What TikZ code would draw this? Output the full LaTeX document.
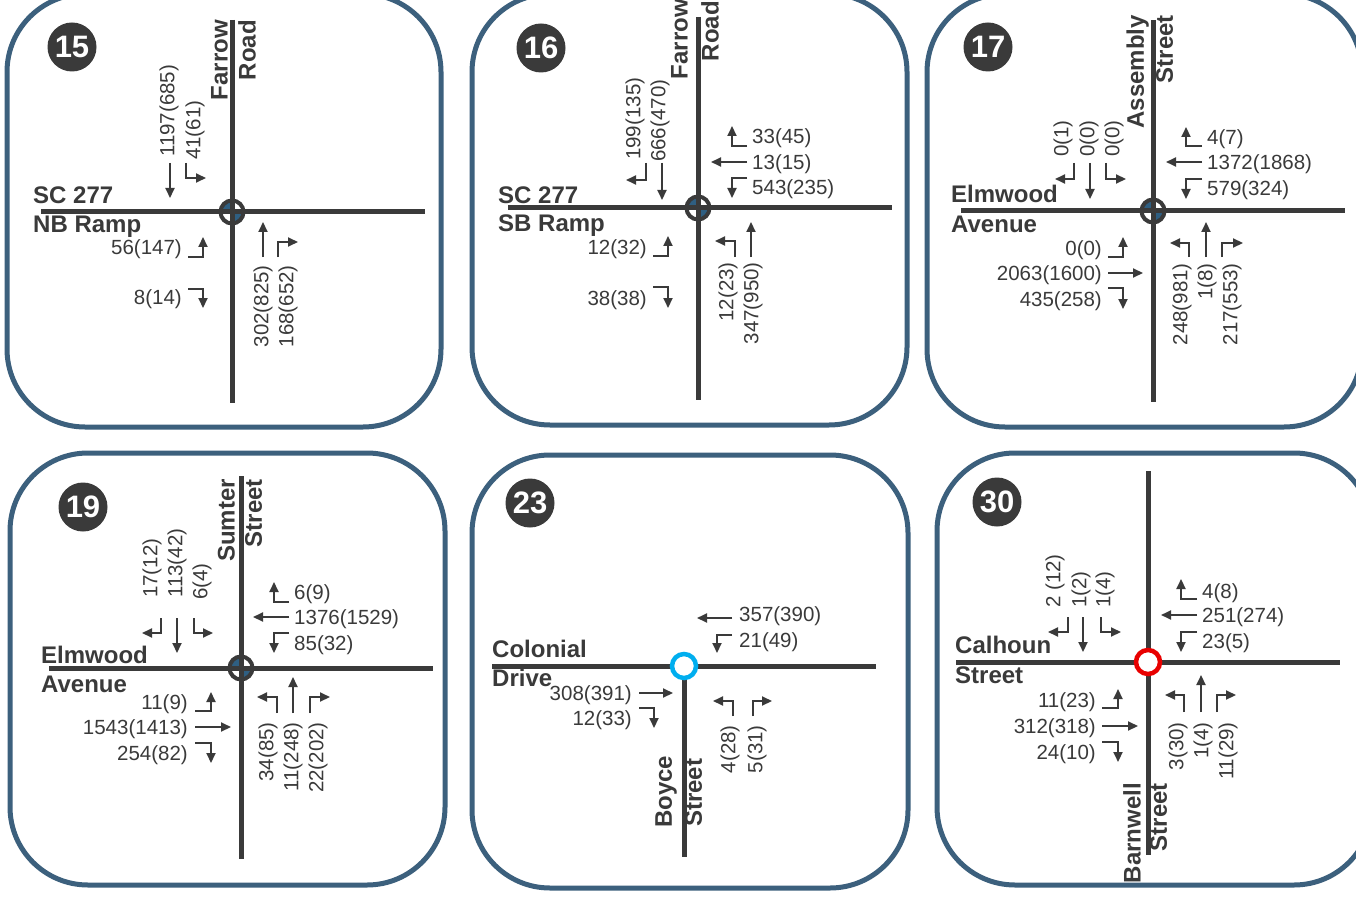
\documentclass[tikz,border=0pt]{standalone}
\usepackage{fontspec}
\setmainfont{Liberation Sans}
\usetikzlibrary{arrows.meta}
\definecolor{ink}{RGB}{58,58,58}
\definecolor{frame}{RGB}{60,96,125}
\definecolor{quad}{RGB}{47,95,130}
\definecolor{cyanring}{RGB}{0,174,239}
\definecolor{redring}{RGB}{232,0,0}
\tikzset{
  panel/.style={draw=frame, line width=5pt, rounded corners=78pt},
  road/.style={draw=ink, line width=5pt},
  flow/.style={draw=ink, line width=2pt, -{Triangle[length=10pt,width=9pt]}},
  badge/.style={circle, fill=ink, text=white, minimum size=49pt, inner sep=0pt, font=\fontsize{31}{31}\selectfont\bfseries},
  num/.style={text=ink, inner sep=0pt, font=\fontsize{20.5}{24}\selectfont},
  hnum/.style={num, yshift=-2pt},
  rname/.style={text=ink, inner sep=0pt, font=\fontsize{24}{28}\selectfont\bfseries},
  ring/.style={draw=ink, line width=4pt},
}
\newcommand{\quadmark}[2]{%
  \begin{scope}
    \clip (#1,#2) circle[radius=11pt];
    \fill[quad] (#1-20,#2-20) rectangle (#1,#2);
    \fill[quad] (#1,#2) rectangle (#1+20,#2+20);
  \end{scope}}
\begin{document}
\begin{tikzpicture}[x=1pt,y=-1pt]
\useasboundingbox (0,0) rectangle (1356,909);
\clip (0,0) rectangle (1356,909);
\fill[white] (0,0) rectangle (1356,909);

% ================= Panel 15
\draw[panel] (7,-6) rectangle (441,427);
\node[badge] (b15) at (72,47) {15};
\quadmark{232}{212}
\draw[road] (232,20) -- (232,403);
\draw[road] (41,212) -- (425,212);
\draw[ring] (232,212) circle[radius=11.5pt];
\node[rname,rotate=90,anchor=south east] (r15a) at (228,20) {Farrow};
\node[rname,rotate=90,anchor=north east] (r15b) at (238,20) {Road};
\node[rname,anchor=base west] (r15c) at (33,204) {SC 277};
\node[rname,anchor=base west] (r15d) at (33,233) {NB Ramp};
\draw[flow] (170,163) -- (170,198);
\draw[flow] (186,163) -- (186,178) -- (206,178);
\draw[flow] (188,257) -- (203,257) -- (203,237);
\draw[flow] (188,289) -- (203,289) -- (203,308);
\draw[flow] (263,257) -- (263,222);
\draw[flow] (278,257) -- (278,242) -- (298,242);
\node[num,rotate=90,anchor=west] (n15a) at (169,157) {1197(685)};
\node[num,rotate=90,anchor=west] (n15b) at (195,160) {41(61)};
\node[hnum,anchor=east] (n15c) at (182,247) {56(147)};
\node[hnum,anchor=east] (n15d) at (182,297) {8(14)};
\node[num,rotate=90,anchor=east] (n15e) at (263,265) {302(825)};
\node[num,rotate=90,anchor=east] (n15f) at (288,265) {168(652)};

% ================= Panel 16
\draw[panel] (472,-6) rectangle (907,425);
\node[badge] (b16) at (541,48) {16};
\quadmark{698}{208}
\draw[road] (698,17) -- (698,400);
\draw[road] (508,208) -- (892,208);
\draw[ring] (698,208) circle[radius=11.5pt];
\node[rname,rotate=90,anchor=south east] (r16a) at (688,-1) {Farrow};
\node[rname,rotate=90,anchor=north east] (r16b) at (701,1) {Road};
\node[rname,anchor=base west] (r16c) at (498,204) {SC 277};
\node[rname,anchor=base west] (r16d) at (498,232) {SB Ramp};
\draw[flow] (646,163) -- (646,180) -- (626,180);
\draw[flow] (662,163) -- (662,200);
\draw[flow] (747,146) -- (732,146) -- (732,126);
\draw[flow] (747,162) -- (711,162);
\draw[flow] (747,178) -- (732,178) -- (732,198);
\draw[flow] (653,256) -- (668,256) -- (668,236);
\draw[flow] (653,287) -- (668,287) -- (668,308);
\draw[flow] (735,257) -- (735,241) -- (715,241);
\draw[flow] (751,257) -- (751,222);
\node[num,rotate=90,anchor=west] (n16a) at (635,160) {199(135)};
\node[num,rotate=90,anchor=west] (n16b) at (660,162) {666(470)};
\node[hnum,anchor=west] (n16c) at (752,136) {33(45)};
\node[hnum,anchor=west] (n16d) at (752,162) {13(15)};
\node[hnum,anchor=west] (n16e) at (752,187) {543(235)};
\node[hnum,anchor=east] (n16f) at (647,247) {12(32)};
\node[hnum,anchor=east] (n16g) at (647,298) {38(38)};
\node[num,rotate=90,anchor=east] (n16h) at (728,262) {12(23)};
\node[num,rotate=90,anchor=east] (n16i) at (753,262) {347(950)};

% ================= Panel 17
\draw[panel] (927,-6) rectangle (1362,427);
\node[badge] (b17) at (988,47) {17};
\quadmark{1153}{211}
\draw[road] (1153,20) -- (1153,402);
\draw[road] (961,211) -- (1345,211);
\draw[ring] (1153,211) circle[radius=11.5pt];
\node[rname,rotate=90,anchor=south east] (r17a) at (1149,15) {Assembly};
\node[rname,rotate=90,anchor=north east] (r17b) at (1156,15) {Street};
\node[rname,anchor=base west] (r17c) at (951,203) {Elmwood};
\node[rname,anchor=base west] (r17d) at (951,233) {Avenue};
\draw[flow] (1074,163) -- (1074,179) -- (1055,179);
\draw[flow] (1090,163) -- (1090,199);
\draw[flow] (1106,163) -- (1106,179) -- (1126,179);
\draw[flow] (1202,146) -- (1186,146) -- (1186,127);
\draw[flow] (1202,162) -- (1166,162);
\draw[flow] (1202,179) -- (1186,179) -- (1186,199);
\draw[flow] (1108,257) -- (1123,257) -- (1123,237);
\draw[flow] (1108,273) -- (1143,273);
\draw[flow] (1108,288) -- (1123,288) -- (1123,309);
\draw[flow] (1189,257) -- (1189,243) -- (1170,243);
\draw[flow] (1206,257) -- (1206,222);
\draw[flow] (1222,257) -- (1222,243) -- (1243,243);
\node[num,rotate=90,anchor=west] (n17a) at (1063,157) {0(1)};
\node[num,rotate=90,anchor=west] (n17b) at (1089,157) {0(0)};
\node[num,rotate=90,anchor=west] (n17c) at (1114,157) {0(0)};
\node[hnum,anchor=west] (n17d) at (1207,137) {4(7)};
\node[hnum,anchor=west] (n17e) at (1207,162) {1372(1868)};
\node[hnum,anchor=west] (n17f) at (1207,188) {579(324)};
\node[hnum,anchor=east] (n17g) at (1102,248) {0(0)};
\node[hnum,anchor=east] (n17h) at (1102,273) {2063(1600)};
\node[hnum,anchor=east] (n17i) at (1102,299) {435(258)};
\node[num,rotate=90,anchor=east] (n17j) at (1182,263) {248(981)};
\node[num,rotate=90,anchor=east] (n17k) at (1207,263) {1(8)};
\node[num,rotate=90,anchor=east] (n17l) at (1232,263) {217(553)};

% ================= Panel 19
\draw[panel] (10,453) rectangle (445,885);
\node[badge] (b19) at (83,507) {19};
\quadmark{241}{668}
\draw[road] (241,476) -- (241,859);
\draw[road] (49,668) -- (433,668);
\draw[ring] (241,668) circle[radius=11.5pt];
\node[rname,rotate=90,anchor=south east] (r19a) at (235,479) {Sumter};
\node[rname,rotate=90,anchor=north east] (r19b) at (245,479) {Street};
\node[rname,anchor=base west] (r19c) at (41,663) {Elmwood};
\node[rname,anchor=base west] (r19d) at (41,692) {Avenue};
\draw[flow] (161,618) -- (161,633) -- (142,633);
\draw[flow] (177,618) -- (177,653);
\draw[flow] (194,618) -- (194,633) -- (213,633);
\draw[flow] (289,602) -- (274,602) -- (274,582);
\draw[flow] (289,617) -- (253,617);
\draw[flow] (289,633) -- (274,633) -- (274,653);
\draw[flow] (195,711) -- (211,711) -- (211,692);
\draw[flow] (195,727) -- (231,727);
\draw[flow] (195,743) -- (211,743) -- (211,763);
\draw[flow] (277,713) -- (277,697) -- (257,697);
\draw[flow] (293,713) -- (293,677);
\draw[flow] (310,713) -- (310,697) -- (330,697);
\node[num,rotate=90,anchor=west] (n19a) at (152,598) {17(12)};
\node[num,rotate=90,anchor=west] (n19b) at (177,598) {113(42)};
\node[num,rotate=90,anchor=west] (n19c) at (202,600) {6(4)};
\node[hnum,anchor=west] (n19d) at (294,592) {6(9)};
\node[hnum,anchor=west] (n19e) at (294,617) {1376(1529)};
\node[hnum,anchor=west] (n19f) at (294,643) {85(32)};
\node[hnum,anchor=east] (n19g) at (188,702) {11(9)};
\node[hnum,anchor=east] (n19h) at (188,727) {1543(1413)};
\node[hnum,anchor=east] (n19i) at (188,753) {254(82)};
\node[num,rotate=90,anchor=east] (n19j) at (268,722) {34(85)};
\node[num,rotate=90,anchor=east] (n19k) at (293,722) {11(248)};
\node[num,rotate=90,anchor=east] (n19l) at (318,722) {22(202)};

% ================= Panel 23
\draw[panel] (472,455) rectangle (908,888);
\node[badge] (b23) at (530,503) {23};
\draw[road] (492,666) -- (876,666);
\draw[road] (684,666) -- (684,857);
\draw[draw=cyanring, fill=white, line width=4.5pt] (684,666) circle[radius=12pt];
\node[rname,anchor=base west] (r23a) at (492,657) {Colonial};
\node[rname,anchor=base west] (r23b) at (492,686) {Drive};
\node[rname,rotate=90,anchor=south west] (r23c) at (677,828) {Boyce};
\node[rname,rotate=90,anchor=north west] (r23d) at (685,827) {Street};
\draw[flow] (732,618) -- (697,618);
\draw[flow] (732,635) -- (717,635) -- (717,653);
\draw[flow] (639,693) -- (673,693);
\draw[flow] (639,708) -- (654,708) -- (654,728);
\draw[flow] (733,716) -- (733,701) -- (713,701);
\draw[flow] (753,716) -- (753,701) -- (772,701);
\node[hnum,anchor=west] (n23a) at (739,614) {357(390)};
\node[hnum,anchor=west] (n23b) at (739,640) {21(49)};
\node[hnum,anchor=east] (n23c) at (632,693) {308(391)};
\node[hnum,anchor=east] (n23d) at (632,718) {12(33)};
\node[num,rotate=90,anchor=east] (n23e) at (730,725) {4(28)};
\node[num,rotate=90,anchor=east] (n23f) at (757,725) {5(31)};

% ================= Panel 30
\draw[panel] (937,453) rectangle (1372,885);
\node[badge] (b30) at (997,502) {30};
\draw[road] (1148,471) -- (1148,855);
\draw[road] (956,662) -- (1340,662);
\draw[draw=redring, fill=white, line width=4.5pt] (1148,662) circle[radius=12pt];
\node[rname,anchor=base west] (r30a) at (955,653) {Calhoun};
\node[rname,anchor=base west] (r30b) at (955,683) {Street};
\node[rname,rotate=90,anchor=south east] (r30c) at (1141,783) {Barnwell};
\node[rname,rotate=90,anchor=north east] (r30d) at (1150,783) {Street};
\draw[flow] (1068,617) -- (1068,632) -- (1048,632);
\draw[flow] (1083,617) -- (1083,652);
\draw[flow] (1101,617) -- (1101,632) -- (1121,632);
\draw[flow] (1197,599) -- (1181,599) -- (1181,579);
\draw[flow] (1197,615) -- (1161,615);
\draw[flow] (1197,632) -- (1181,632) -- (1181,652);
\draw[flow] (1102,708) -- (1118,708) -- (1118,689);
\draw[flow] (1102,726) -- (1138,726);
\draw[flow] (1102,742) -- (1118,742) -- (1118,762);
\draw[flow] (1184,712) -- (1184,695) -- (1165,695);
\draw[flow] (1201,712) -- (1201,675);
\draw[flow] (1217,712) -- (1217,695) -- (1236,695);
\node[num,rotate=90,anchor=west] (n30a) at (1055,608) {2 (12)};
\node[num,rotate=90,anchor=west] (n30b) at (1081,608) {1(2)};
\node[num,rotate=90,anchor=west] (n30c) at (1105,608) {1(4)};
\node[hnum,anchor=west] (n30d) at (1202,591) {4(8)};
\node[hnum,anchor=west] (n30e) at (1202,615) {251(274)};
\node[hnum,anchor=west] (n30f) at (1202,641) {23(5)};
\node[hnum,anchor=east] (n30g) at (1096,700) {11(23)};
\node[hnum,anchor=east] (n30h) at (1096,726) {312(318)};
\node[hnum,anchor=east] (n30i) at (1096,752) {24(10)};
\node[num,rotate=90,anchor=east] (n30j) at (1178,722) {3(30)};
\node[num,rotate=90,anchor=east] (n30k) at (1203,722) {1(4)};
\node[num,rotate=90,anchor=east] (n30l) at (1228,722) {11(29)};
\end{tikzpicture}
\end{document}
